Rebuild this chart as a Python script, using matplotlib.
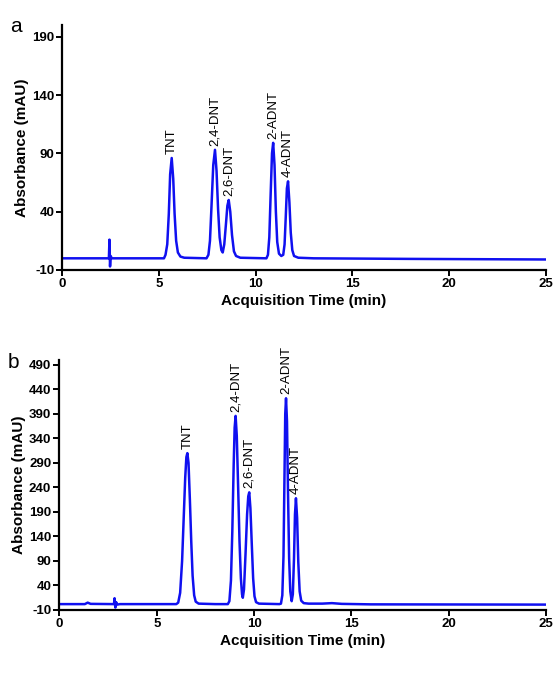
import matplotlib
matplotlib.use("Agg")
import matplotlib.pyplot as plt

plt.rcParams["font.family"] = ["Liberation Sans", "DejaVu Sans"]
plt.rcParams["axes.unicode_minus"] = False

# panel a trace (min, mAU)
a_time = [0.0, 1.0, 2.40, 2.43, 2.46, 2.49, 2.55, 4.0, 5.25,
          5.33, 5.42, 5.50, 5.57, 5.65, 5.73, 5.80, 5.88, 5.97, 6.1, 6.3,
          7.45, 7.55, 7.63, 7.71, 7.80, 7.89, 7.97, 8.05, 8.13, 8.22, 8.29,
          8.37, 8.46, 8.53, 8.60, 8.68, 8.77, 8.87, 8.98, 9.2,
          10.55, 10.63, 10.70, 10.77, 10.84, 10.90, 10.97, 11.04, 11.11, 11.20,
          11.32, 11.42, 11.49, 11.55, 11.61, 11.67, 11.74, 11.81, 11.89, 11.98,
          12.2, 13.0, 18.0, 25.0]
a_absorbance = [0.0, 0.0, 0.0, 16.0, -7.0, 2.0, 0.0, 0.0, 0.0,
                3.0, 12.0, 38.0, 72.0, 86.0, 68.0, 38.0, 15.0, 5.0, 1.5, 0.5,
                0.0, 3.0, 15.0, 45.0, 80.0, 93.0, 75.0, 42.0, 18.0, 7.0, 5.0,
                12.0, 30.0, 45.0, 50.0, 40.0, 20.0, 6.0, 2.0, 0.5,
                0.0, 3.0, 18.0, 55.0, 90.0, 99.0, 80.0, 40.0, 14.0, 4.0,
                2.0, 3.0, 12.0, 35.0, 60.0, 66.0, 48.0, 22.0, 7.0, 2.0,
                0.5, 0.0, -0.5, -1.0]

# panel b trace
b_time = [0.0, 1.3, 1.45, 1.6, 2.8, 2.83, 2.87, 2.91, 2.97, 3.1,
          6.0, 6.10, 6.20, 6.30, 6.38, 6.46, 6.52, 6.57, 6.63, 6.70, 6.77,
          6.84, 6.92, 7.0, 7.15, 8.0,
          8.65, 8.73, 8.81, 8.88, 8.95, 9.00, 9.05, 9.11, 9.18, 9.25, 9.32,
          9.38, 9.42, 9.48, 9.56, 9.64, 9.70, 9.75, 9.81, 9.88, 9.95, 10.02,
          10.10, 10.25, 11.3,
          11.38, 11.45, 11.51, 11.56, 11.60, 11.64, 11.69, 11.74, 11.80, 11.86,
          11.93, 11.99, 12.05, 12.10, 12.15, 12.21, 12.27, 12.34, 12.42, 12.55,
          12.8, 13.5, 14.0, 14.5, 16.0, 25.0]
b_absorbance = [2.0, 2.0, 5.0, 2.5, 2.0, 14.0, -5.0, 6.0, 1.0, 2.0,
                2.0, 5.0, 25.0, 90.0, 175.0, 260.0, 302.0, 310.0, 290.0, 215.0, 130.0,
                60.0, 20.0, 7.0, 3.0, 2.0,
                2.0, 8.0, 50.0, 150.0, 285.0, 362.0, 386.0, 345.0, 240.0, 130.0, 55.0,
                22.0, 15.0, 32.0, 105.0, 185.0, 222.0, 230.0, 198.0, 125.0, 55.0, 18.0,
                6.0, 3.0, 2.0,
                3.0, 20.0, 100.0, 260.0, 390.0, 422.0, 375.0, 235.0, 95.0, 28.0,
                8.0, 22.0, 95.0, 185.0, 218.0, 178.0, 88.0, 28.0, 9.0, 4.0,
                3.0, 3.0, 4.0, 2.5, 1.5, 1.0]

peak_names = ["TNT", "2,4-DNT", "2,6-DNT", "2-ADNT", "4-ADNT"]
a_peak_times = [5.65, 7.89, 8.60, 10.90, 11.67]
a_peak_heights = [86, 93, 50, 99, 66]
b_peak_times = [6.57, 9.05, 9.75, 11.64, 12.15]
b_peak_heights = [310, 386, 230, 422, 218]

a_yticks = [-10, 40, 90, 140, 190]
b_yticks = [-10, 40, 90, 140, 190, 240, 290, 340, 390, 440, 490]
x_ticks = [0, 5, 10, 15, 20, 25]

LINE_COLOR = "#1010f0"

fig = plt.figure(figsize=(5.57, 6.78), dpi=100)
ax_a = fig.add_axes([0.1122, 0.6018, 0.8675, 0.3613])
ax_b = fig.add_axes([0.1068, 0.1003, 0.8735, 0.3687])


def style_panel(ax, times, values, peak_t, peak_h, yticks, ylim):
    ax.plot(times, values, color=LINE_COLOR, lw=1.8, solid_joinstyle="round")
    for name, t, h in zip(peak_names, peak_t, peak_h):
        ax.annotate(name, (t, h), xytext=(0, 3), textcoords="offset points",
                    rotation=90, ha="center", va="bottom", fontsize=9.5)
    ax.set_xlim(0, 25)
    ax.set_ylim(*ylim)
    ax.set_xticks(x_ticks)
    ax.set_yticks(yticks)
    for s in ("top", "right"):
        ax.spines[s].set_visible(False)
    for s in ("left", "bottom"):
        ax.spines[s].set_linewidth(1.6)
    ax.tick_params(width=1.4, length=4, labelsize=9.5, pad=2)
    for lbl in ax.get_xticklabels() + ax.get_yticklabels():
        lbl.set_fontweight("bold")
    ax.set_xlabel("Acquisition Time (min)", fontsize=11, fontweight="bold", labelpad=3)
    ax.set_ylabel("Absorbance (mAU)", fontsize=11, fontweight="bold", labelpad=2)


style_panel(ax_a, a_time, a_absorbance, a_peak_times, a_peak_heights, a_yticks, (-10, 200))
style_panel(ax_b, b_time, b_absorbance, b_peak_times, b_peak_heights, b_yticks, (-10, 500))

fig.text(0.018, 0.975, "a", fontsize=15, va="top")
fig.text(0.014, 0.48, "b", fontsize=15, va="top")

fig.savefig("out.png", dpi=100)
